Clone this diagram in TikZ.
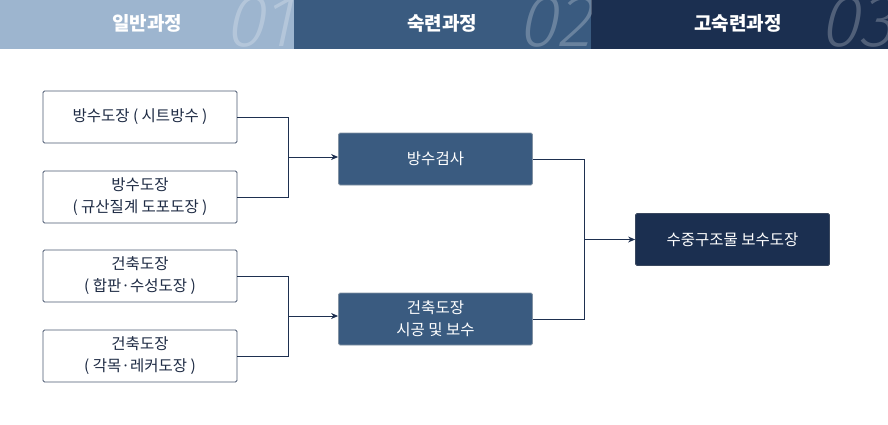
\documentclass[tikz,border=0pt]{standalone}
\usepackage{fontspec}
\setmainfont{Noto Sans CJK KR}
\newfontfamily\bignum{Fira Sans Light}[FakeSlant=0.22]
\usetikzlibrary{arrows.meta}
\definecolor{bandA}{HTML}{9DB5CF}
\definecolor{bandB}{HTML}{3A5B80}
\definecolor{bandC}{HTML}{1B2F50}
\definecolor{boxline}{HTML}{4A5870}
\definecolor{txt}{HTML}{1E2B44}
\definecolor{conn}{HTML}{1E3050}
\tikzset{
  x=1pt, y=-1pt,
  lightbox/.style={draw=boxline, line width=0.8pt, fill=white, rounded corners=1.5pt,
    minimum width=194pt, minimum height=52pt, align=center, text=txt,
    font=\fontsize{15.5}{22}\selectfont, inner sep=0pt},
  midbox/.style={lightbox, fill=bandB, draw=bandB!80!black!60, text=white},
  darkbox/.style={lightbox, fill=bandC, draw=bandC!70!gray, text=white},
  headtxt/.style={text=white, font=\fontsize{19}{22}\selectfont\bfseries},
  numtxt/.style={text=white, opacity=0.24, font=\fontsize{74}{74}\selectfont\bignum, inner sep=0pt, anchor=east},
  conn/.style={draw=conn, line width=1pt},
  arr/.style={conn, -{Stealth[length=7pt,width=6pt]}}
}
\begin{document}
\begin{tikzpicture}
\useasboundingbox (0,0) rectangle (888,424);
% header bands
\fill[bandA] (0,0) rectangle (294,49);
\fill[bandB] (294,0) rectangle (591,49);
\fill[bandC] (591,0) rectangle (888,49);
\begin{scope}
\clip (0,0) rectangle (294,49);
\node[numtxt] (n1) at (293,22) {\scalebox{0.98}[1]{01}};
\end{scope}
\begin{scope}
\clip (294,0) rectangle (591,49);
\node[numtxt] (n2) at (591,22) {\scalebox{0.98}[1]{02}};
\end{scope}
\begin{scope}
\clip (591,0) rectangle (888,49);
\node[numtxt] (n3) at (894,22) {\scalebox{0.98}[1]{03}};
\end{scope}
\node[headtxt] (h1) at (147,23) {일반과정};
\node[headtxt] (h2) at (442,23) {숙련과정};
\node[headtxt] (h3) at (738,23) {고숙련과정};
% left boxes
\node[lightbox] (b1) at (140,117) {방수도장 ( 시트방수 )};
\node[lightbox] (b2) at (140,197) {방수도장\\( 규산질계 도포도장 )};
\node[lightbox] (b3) at (140,276) {건축도장\\( 합판·수성도장 )};
\node[lightbox] (b4) at (140,356) {건축도장\\( 각목·레커도장 )};
% middle boxes
\node[midbox] (b5) at (435.5,159) {방수검사};
\node[midbox] (b6) at (435.5,319) {건축도장\\시공 및 보수};
% right box
\node[darkbox] (b7) at (732.5,239.5) {수중구조물 보수도장};
% junctions
\coordinate (j1) at (288,157);
\coordinate (j2) at (288,316);
\coordinate (j3) at (584,239.5);
\draw[conn] (b1.east) -| (j1);
\draw[conn] (b2.east) -| (j1);
\draw[arr] (j1) -- (b5.west |- j1);
\draw[conn] (b3.east) -| (j2);
\draw[conn] (b4.east) -| (j2);
\draw[arr] (j2) -- (b6.west |- j2);
\draw[conn] (b5.east) -| (j3);
\draw[conn] (b6.east) -| (j3);
\draw[arr] (j3) -- (b7.west);
\end{tikzpicture}
\end{document}
